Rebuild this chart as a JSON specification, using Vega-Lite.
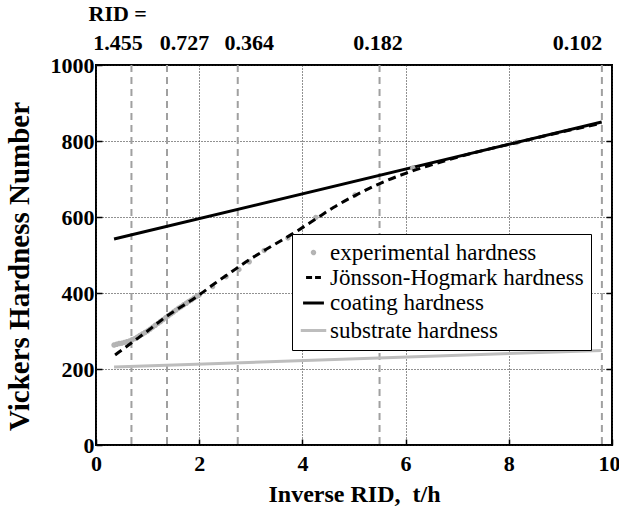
{
  "$schema": "https://vega.github.io/schema/vega-lite/v6.json",
  "autosize": "none",
  "width": 516,
  "height": 380,
  "padding": {"left": 96, "top": 65, "right": 7, "bottom": 64},
  "background": "white",
  "config": {
    "view": {"stroke": "black", "strokeWidth": 2},
    "font": "Liberation Serif",
    "axis": {
      "labelFont": "Liberation Serif",
      "labelFontWeight": "bold",
      "labelFontSize": 22,
      "labelColor": "black",
      "titleFont": "Liberation Serif",
      "titleFontWeight": "bold",
      "titleColor": "black",
      "domain": false,
      "gridColor": "#222",
      "gridDash": [1, 2],
      "gridWidth": 1,
      "gridOpacity": 1,
      "tickColor": "black",
      "tickWidth": 1.5
    },
    "legend": {
      "labelFont": "Liberation Serif",
      "labelFontSize": 23,
      "labelColor": "black",
      "labelLimit": 400
    }
  },
  "datasets": {
    "experimental": [
      {"t_h": 0.35, "hv": 263, "series": "experimental hardness"}, {"t_h": 0.40, "hv": 265, "series": "experimental hardness"},
      {"t_h": 0.45, "hv": 267, "series": "experimental hardness"}, {"t_h": 0.50, "hv": 268, "series": "experimental hardness"},
      {"t_h": 0.55, "hv": 270, "series": "experimental hardness"}, {"t_h": 0.60, "hv": 272, "series": "experimental hardness"},
      {"t_h": 0.65, "hv": 274, "series": "experimental hardness"}, {"t_h": 0.70, "hv": 277, "series": "experimental hardness"},
      {"t_h": 0.75, "hv": 280, "series": "experimental hardness"}, {"t_h": 0.80, "hv": 284, "series": "experimental hardness"},
      {"t_h": 0.85, "hv": 288, "series": "experimental hardness"}, {"t_h": 0.90, "hv": 292, "series": "experimental hardness"},
      {"t_h": 0.95, "hv": 296, "series": "experimental hardness"}, {"t_h": 1.00, "hv": 300, "series": "experimental hardness"},
      {"t_h": 1.05, "hv": 305, "series": "experimental hardness"}, {"t_h": 1.10, "hv": 310, "series": "experimental hardness"},
      {"t_h": 1.15, "hv": 315, "series": "experimental hardness"}, {"t_h": 1.20, "hv": 320, "series": "experimental hardness"},
      {"t_h": 1.25, "hv": 325, "series": "experimental hardness"}, {"t_h": 1.30, "hv": 330, "series": "experimental hardness"},
      {"t_h": 1.35, "hv": 335, "series": "experimental hardness"}, {"t_h": 1.40, "hv": 340, "series": "experimental hardness"},
      {"t_h": 1.45, "hv": 345, "series": "experimental hardness"}, {"t_h": 1.50, "hv": 350, "series": "experimental hardness"},
      {"t_h": 1.55, "hv": 355, "series": "experimental hardness"}, {"t_h": 1.60, "hv": 360, "series": "experimental hardness"},
      {"t_h": 1.65, "hv": 364, "series": "experimental hardness"}, {"t_h": 1.70, "hv": 369, "series": "experimental hardness"},
      {"t_h": 1.75, "hv": 373, "series": "experimental hardness"}, {"t_h": 1.80, "hv": 378, "series": "experimental hardness"},
      {"t_h": 1.85, "hv": 382, "series": "experimental hardness"}, {"t_h": 1.90, "hv": 387, "series": "experimental hardness"},
      {"t_h": 1.95, "hv": 391, "series": "experimental hardness"}, {"t_h": 2.00, "hv": 395, "series": "experimental hardness"},
      {"t_h": 2.26, "hv": 417, "series": "experimental hardness"}, {"t_h": 2.52, "hv": 443, "series": "experimental hardness"},
      {"t_h": 2.77, "hv": 462, "series": "experimental hardness"}, {"t_h": 2.97, "hv": 482, "series": "experimental hardness"},
      {"t_h": 3.26, "hv": 512, "series": "experimental hardness"}, {"t_h": 3.72, "hv": 545, "series": "experimental hardness"},
      {"t_h": 4.26, "hv": 599, "series": "experimental hardness"}, {"t_h": 5.02, "hv": 658, "series": "experimental hardness"},
      {"t_h": 6.14, "hv": 729, "series": "experimental hardness"}, {"t_h": 8.15, "hv": 796, "series": "experimental hardness"}
    ],
    "jh": [
      {"t_h": 0.37, "hv": 237}, {"t_h": 0.50, "hv": 250}, {"t_h": 0.72, "hv": 272},
      {"t_h": 1.00, "hv": 300}, {"t_h": 1.36, "hv": 338}, {"t_h": 1.70, "hv": 368},
      {"t_h": 2.00, "hv": 395}, {"t_h": 2.30, "hv": 425}, {"t_h": 2.65, "hv": 458},
      {"t_h": 3.00, "hv": 490}, {"t_h": 3.30, "hv": 515}, {"t_h": 3.55, "hv": 535},
      {"t_h": 3.80, "hv": 555}, {"t_h": 4.00, "hv": 572}, {"t_h": 4.26, "hv": 595},
      {"t_h": 4.60, "hv": 625}, {"t_h": 5.00, "hv": 655}, {"t_h": 5.50, "hv": 688},
      {"t_h": 6.00, "hv": 715}, {"t_h": 6.50, "hv": 737}, {"t_h": 7.00, "hv": 757},
      {"t_h": 7.50, "hv": 775}, {"t_h": 8.00, "hv": 791}, {"t_h": 8.50, "hv": 807},
      {"t_h": 9.00, "hv": 823}, {"t_h": 9.50, "hv": 838}, {"t_h": 9.80, "hv": 847}
    ],
    "coating": [
      {"t_h": 0.35, "hv": 542},
      {"t_h": 9.80, "hv": 850}
    ],
    "substrate": [
      {"t_h": 0.35, "hv": 205},
      {"t_h": 9.80, "hv": 249}
    ],
    "rid": [
      {"t_h": 0.687, "rid": "1.455"},
      {"t_h": 1.376, "rid": "0.727"},
      {"t_h": 2.747, "rid": "0.364"},
      {"t_h": 5.495, "rid": "0.182"},
      {"t_h": 9.804, "rid": "0.102"}
    ]
  },
  "resolve": {"axis": {"x": "independent", "y": "independent"}},
  "layer": [
    {
      "data": {"name": "rid"},
      "mark": {"type": "rule", "color": "#a0a0a0", "strokeWidth": 2, "strokeDash": [7, 5]},
      "encoding": {
        "x": {
          "field": "t_h", "type": "quantitative",
          "scale": {"domain": [0, 10], "nice": false},
          "axis": {
            "orient": "top",
            "values": [0.687, 1.376, 2.747, 5.495, 9.804],
            "labelExpr": "datum.value < 1 ? '1.455' : datum.value < 2 ? '0.727' : datum.value < 4 ? '0.364' : datum.value < 7 ? '0.182' : '0.102'",
            "labelOffset": {"condition": [
              {"test": "datum.value < 1", "value": -14},
              {"test": "datum.value < 2", "value": 17},
              {"test": "datum.value < 4", "value": 11},
              {"test": "datum.value < 7", "value": -2}
            ], "value": -25},
            "labelOverlap": false,
            "labelBound": false,
            "labelFlush": false,
            "ticks": false,
            "grid": false,
            "labelPadding": 11,
            "title": "RID =",
            "titleFontSize": 22,
            "titleAnchor": "start",
            "titleAlign": "left",
            "titleBaseline": "alphabetic",
            "titleX": -8,
            "titleY": -45
          }
        }
      }
    },
    {
      "data": {"name": "substrate"},
      "mark": {"type": "line", "strokeWidth": 3, "color": "#bdbdbd"},
      "encoding": {
        "x": {"field": "t_h", "type": "quantitative", "axis": null},
        "y": {"field": "hv", "type": "quantitative", "scale": {"domain": [0, 1000], "nice": false},
          "axis": {"orient": "right", "labels": false, "grid": false, "title": null, "values": [200, 400, 600, 800], "tickSize": -6}}
      }
    },
    {
      "data": {"name": "coating"},
      "mark": {"type": "line", "strokeWidth": 3, "color": "black"},
      "encoding": {
        "x": {"field": "t_h", "type": "quantitative", "axis": null},
        "y": {"field": "hv", "type": "quantitative", "axis": null}
      }
    },
    {
      "data": {"name": "experimental"},
      "mark": {"type": "point", "filled": false, "opacity": 1, "strokeWidth": 3},
      "encoding": {
        "x": {"field": "t_h", "type": "quantitative",
          "axis": {"orient": "bottom", "values": [0, 2, 4, 6, 8, 10], "grid": true, "labelFlush": false,
            "labelOffset": {"condition": {"test": "datum.value > 9", "value": -3}, "value": 0},
            "title": "Inverse RID,\u00a0 t/h", "titleFontSize": 24, "tickSize": -6, "labelPadding": 14, "titlePadding": 8}},
        "y": {"field": "hv", "type": "quantitative",
          "axis": {"orient": "left", "values": [0, 200, 400, 600, 800, 1000], "grid": true, "format": "d",
            "title": "Vickers Hardness Number", "titleFontSize": 29, "titleY": 201, "tickSize": -6, "labelPadding": 8, "titlePadding": 16}},
        "color": {"field": "series", "type": "nominal",
          "scale": {"domain": ["experimental hardness", "Jönsson-Hogmark hardness", "coating hardness", "substrate hardness"],
                    "range": ["#b3b3b3", "black", "black", "#bdbdbd"]},
          "legend": {
            "orient": "none", "legendX": 196, "legendY": 169, "title": null,
            "fillColor": "white", "strokeColor": "black", "padding": 7, "rowPadding": 1, "labelOffset": 2,
            "labelFont": "Liberation Serif", "labelFontSize": 23, "labelColor": "black", "labelLimit": 400,
            "symbolStrokeWidth": 3
          }},
        "shape": {"field": "series", "type": "nominal",
          "scale": {"domain": ["experimental hardness", "Jönsson-Hogmark hardness", "coating hardness", "substrate hardness"],
                    "range": ["circle", "stroke", "stroke", "stroke"]},
          "legend": {
            "orient": "none", "legendX": 196, "legendY": 169, "title": null,
            "fillColor": "white", "strokeColor": "black", "padding": 7, "rowPadding": 1, "labelOffset": 2,
            "labelFont": "Liberation Serif", "labelFontSize": 23, "labelColor": "black", "labelLimit": 400,
            "symbolStrokeWidth": 3
          }},
        "size": {"field": "series", "type": "nominal",
          "scale": {"domain": ["experimental hardness", "Jönsson-Hogmark hardness", "coating hardness", "substrate hardness"],
                    "range": [6, 650, 650, 650]},
          "legend": {
            "orient": "none", "legendX": 196, "legendY": 169, "title": null,
            "fillColor": "white", "strokeColor": "black", "padding": 7, "rowPadding": 1, "labelOffset": 2,
            "labelFont": "Liberation Serif", "labelFontSize": 23, "labelColor": "black", "labelLimit": 400,
            "symbolStrokeWidth": 3
          }},
        "strokeDash": {"field": "series", "type": "nominal",
          "scale": {"domain": ["experimental hardness", "Jönsson-Hogmark hardness", "coating hardness", "substrate hardness"],
                    "range": [[1, 0], [6, 3], [1, 0], [1, 0]]},
          "legend": {
            "orient": "none", "legendX": 196, "legendY": 169, "title": null,
            "fillColor": "white", "strokeColor": "black", "padding": 7, "rowPadding": 1, "labelOffset": 2,
            "labelFont": "Liberation Serif", "labelFontSize": 23, "labelColor": "black", "labelLimit": 400,
            "symbolStrokeWidth": 3
          }}
      }
    },
    {
      "data": {"name": "jh"},
      "mark": {"type": "line", "strokeWidth": 3, "color": "black", "strokeDash": [8, 5], "interpolate": "monotone"},
      "encoding": {
        "x": {"field": "t_h", "type": "quantitative", "axis": null},
        "y": {"field": "hv", "type": "quantitative", "axis": null}
      }
    }
  ]
}
